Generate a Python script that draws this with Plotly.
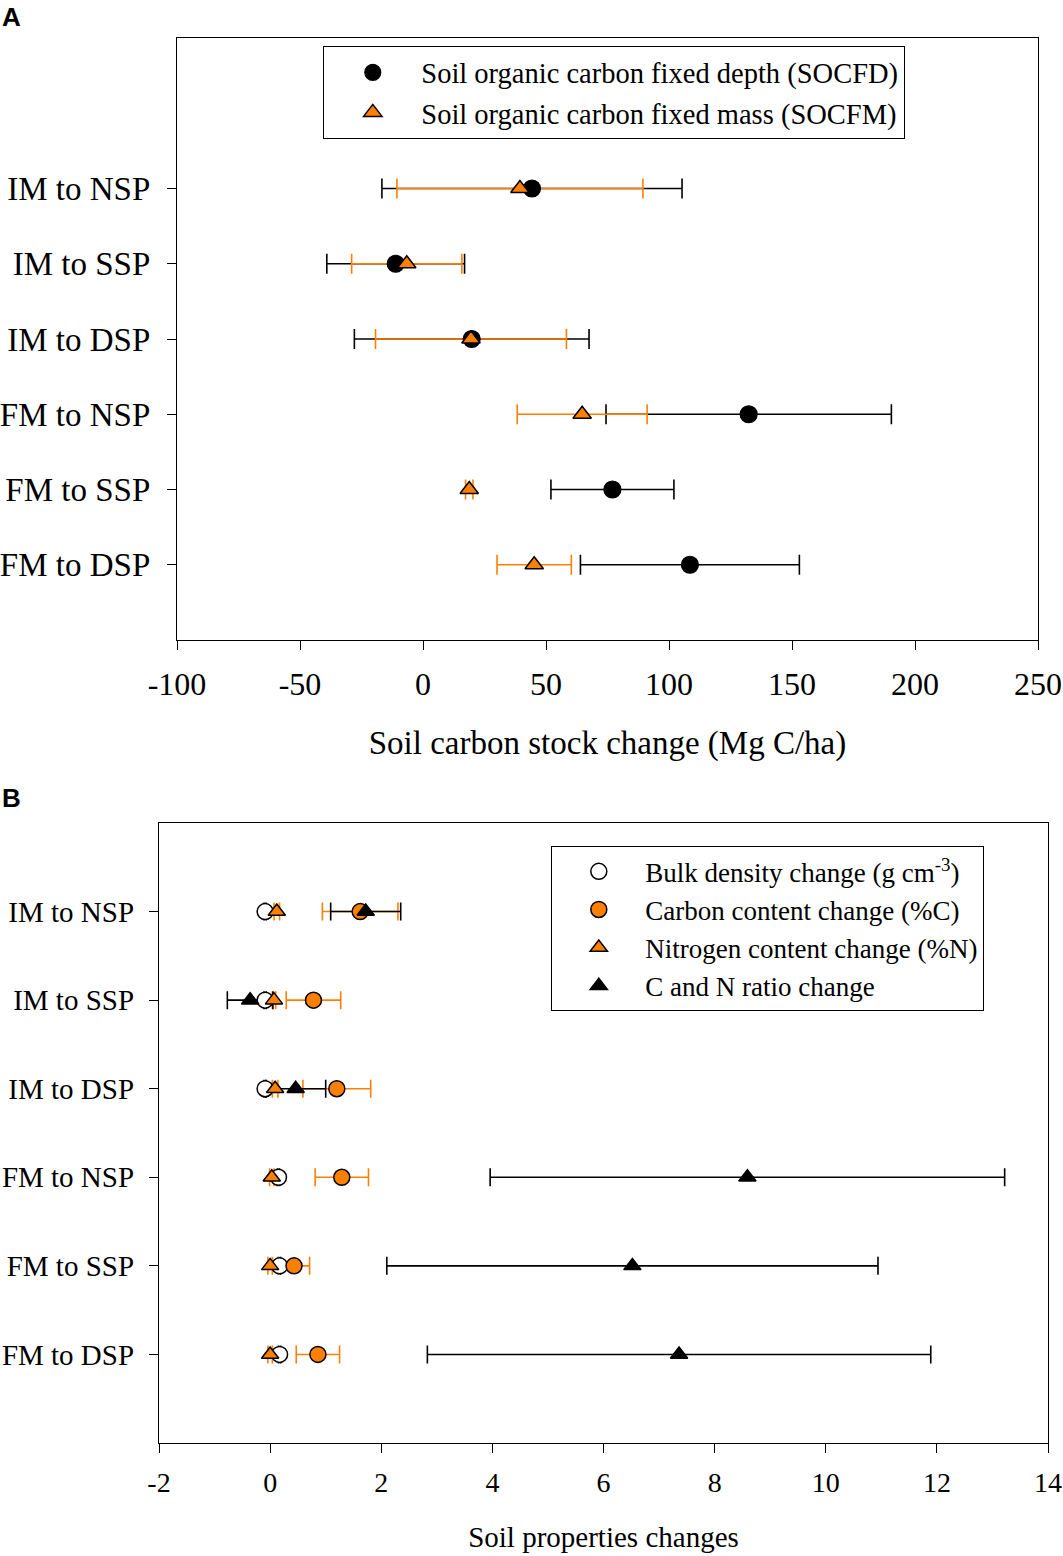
import plotly.graph_objects as go

# categories (top to bottom)
transitions = ['IM to NSP', 'IM to SSP', 'IM to DSP', 'FM to NSP', 'FM to SSP', 'FM to DSP']

# Panel A: soil carbon stock change (Mg C/ha), mean and error
socfd_mean = [44.3, -11.1, 19.8, 132.4, 77.0, 108.5]
socfd_err = [61.0, 28.0, 47.7, 58.0, 25.0, 44.5]
socfm_mean = [39.4, -6.6, 19.5, 64.7, 18.8, 45.2]
socfm_err = [50.0, 22.4, 38.8, 26.4, 1.5, 15.1]

# Panel B: soil properties changes, mean and error
bd_mean = [-0.09, -0.09, -0.09, 0.15, 0.17, 0.17]
bd_err = [0.02, 0.02, 0.02, 0.02, 0.02, 0.02]
c_mean = [1.62, 0.78, 1.20, 1.29, 0.43, 0.86]
c_err = [0.68, 0.49, 0.61, 0.48, 0.28, 0.39]
n_mean = [0.12, 0.07, 0.09, 0.03, 0.0, 0.0]
n_err = [0.05, 0.03, 0.05, 0.04, 0.04, 0.04]
cn_mean = [1.72, -0.36, 0.46, 8.59, 6.52, 7.36]
cn_err = [0.63, 0.41, 0.54, 4.63, 4.42, 4.53]

a_ticks = [-100, -50, 0, 50, 100, 150, 200, 250]
a_ticktext = ['-100', '-50', '0', '50', '100', '150', '200', '250']
b_ticks = [-2, 0, 2, 4, 6, 8, 10, 12, 14]
b_ticktext = ['-2', '0', '2', '4', '6', '8', '10', '12', '14']

ORANGE = '#FF8000'
SERIF = 'Liberation Serif'
W, H = 1063, 1556


def px(x):
    return x / W


def py(y):
    return 1 - y / H


fig = go.Figure()


def err_trace(x, err, y, color, xa, ya, cap):
    # error bars only, drawn beneath all markers
    return go.Scatter(x=x, y=y, mode='markers', xaxis=xa, yaxis=ya,
                      marker=dict(color='rgba(0,0,0,0)', size=1),
                      error_x=dict(type='data', array=err, color=color,
                                   thickness=1.6, width=cap),
                      showlegend=False, hoverinfo='skip')


# ---- Panel A ----
fig.add_trace(err_trace(socfd_mean, socfd_err, transitions, 'black', 'x', 'y', 10))
fig.add_trace(err_trace(socfm_mean, socfm_err, transitions, ORANGE, 'x', 'y', 10))
fig.add_trace(go.Scatter(x=socfd_mean, y=transitions, mode='markers', xaxis='x', yaxis='y',
                         name='Soil organic carbon fixed depth (SOCFD)',
                         marker=dict(symbol='circle', size=17, color='black',
                                     line=dict(color='black', width=1.2)),
                         legend='legend'))
fig.add_trace(go.Scatter(x=socfm_mean, y=transitions, mode='markers', xaxis='x', yaxis='y',
                         name='Soil organic carbon fixed mass (SOCFM)',
                         marker=dict(symbol='triangle-up', size=16, color=ORANGE,
                                     line=dict(color='black', width=1.5)),
                         legend='legend'))

# ---- Panel B ----
fig.add_trace(err_trace(bd_mean, bd_err, transitions, 'black', 'x2', 'y2', 9))
fig.add_trace(err_trace(c_mean, c_err, transitions, ORANGE, 'x2', 'y2', 9))
fig.add_trace(err_trace(n_mean, n_err, transitions, ORANGE, 'x2', 'y2', 9))
fig.add_trace(err_trace(cn_mean, cn_err, transitions, 'black', 'x2', 'y2', 9))
fig.add_trace(go.Scatter(x=bd_mean, y=transitions, mode='markers', xaxis='x2', yaxis='y2',
                         name='Bulk density change (g cm<sup>-3</sup>)',
                         marker=dict(symbol='circle', size=16, color='white',
                                     line=dict(color='black', width=1.5)),
                         legend='legend2'))
fig.add_trace(go.Scatter(x=c_mean, y=transitions, mode='markers', xaxis='x2', yaxis='y2',
                         name='Carbon content change (%C)',
                         marker=dict(symbol='circle', size=16, color=ORANGE,
                                     line=dict(color='black', width=1.5)),
                         legend='legend2'))
fig.add_trace(go.Scatter(x=n_mean, y=transitions, mode='markers', xaxis='x2', yaxis='y2',
                         name='Nitrogen content change (%N)',
                         marker=dict(symbol='triangle-up', size=15, color=ORANGE,
                                     line=dict(color='black', width=1.5)),
                         legend='legend2'))
fig.add_trace(go.Scatter(x=cn_mean, y=transitions, mode='markers', xaxis='x2', yaxis='y2',
                         name='C and N ratio change',
                         marker=dict(symbol='triangle-up', size=15, color='black',
                                     line=dict(color='black', width=1.5)),
                         legend='legend2'))

axis_common = dict(showline=True, linecolor='black', linewidth=1.3, mirror=True,
                   ticks='outside', ticklen=9, tickwidth=1.3, tickcolor='black',
                   showgrid=False, zeroline=False, automargin=False)

fig.update_layout(
    width=W, height=H,
    margin=dict(l=0, r=0, t=0, b=0, autoexpand=False),
    paper_bgcolor='white', plot_bgcolor='white',
    font=dict(family=SERIF, color='black'),
    xaxis=dict(domain=[px(177), px(1038)], anchor='y', range=[-100, 250],
               tickvals=a_ticks, ticktext=a_ticktext, ticklabelstandoff=6,
               tickfont=dict(size=32, family=SERIF),
               title=dict(text='Soil carbon stock change (Mg C/ha)',
                          font=dict(size=33, family=SERIF), standoff=30),
               **axis_common),
    yaxis=dict(domain=[py(640), py(38)], anchor='x', type='category',
               categoryorder='array', categoryarray=transitions, range=[6, -2],
               ticklabelstandoff=10,
               tickfont=dict(size=33, family=SERIF), **axis_common),
    xaxis2=dict(domain=[px(159), px(1048)], anchor='y2', range=[-2, 14],
                tickvals=b_ticks, ticktext=b_ticktext, ticklabelstandoff=5,
                tickfont=dict(size=28, family=SERIF),
                title=dict(text='Soil properties changes',
                           font=dict(size=29, family=SERIF), standoff=29),
                **axis_common),
    yaxis2=dict(domain=[py(1443), py(823)], anchor='x2', type='category',
                categoryorder='array', categoryarray=transitions, range=[6, -1],
                ticklabelstandoff=9,
                tickfont=dict(size=29, family=SERIF), **axis_common),
    legend=dict(x=px(323), y=py(46), xanchor='left', yanchor='top',
                bgcolor='white', bordercolor='black', borderwidth=1.3,
                font=dict(size=28.5, family=SERIF), itemwidth=87, tracegroupgap=0),
    legend2=dict(x=px(551), y=py(846), xanchor='left', yanchor='top',
                 bgcolor='white', bordercolor='black', borderwidth=1.3,
                 font=dict(size=27, family=SERIF), itemwidth=83, tracegroupgap=0),
    annotations=[
        dict(text='<b>A</b>', x=px(0), y=py(0), xref='paper', yref='paper',
             xanchor='left', yanchor='top', showarrow=False,
             font=dict(size=26, family='Liberation Sans', color='black')),
        dict(text='<b>B</b>', x=px(0), y=py(781), xref='paper', yref='paper',
             xanchor='left', yanchor='top', showarrow=False,
             font=dict(size=26, family='Liberation Sans', color='black')),
    ],
    showlegend=True,
)

# drop the page's default body margin so the figure fills the window exactly
fig.write_html("out.html", config={'displayModeBar': False},
               post_script="document.body.style.margin='0';document.body.style.overflow='hidden';")
